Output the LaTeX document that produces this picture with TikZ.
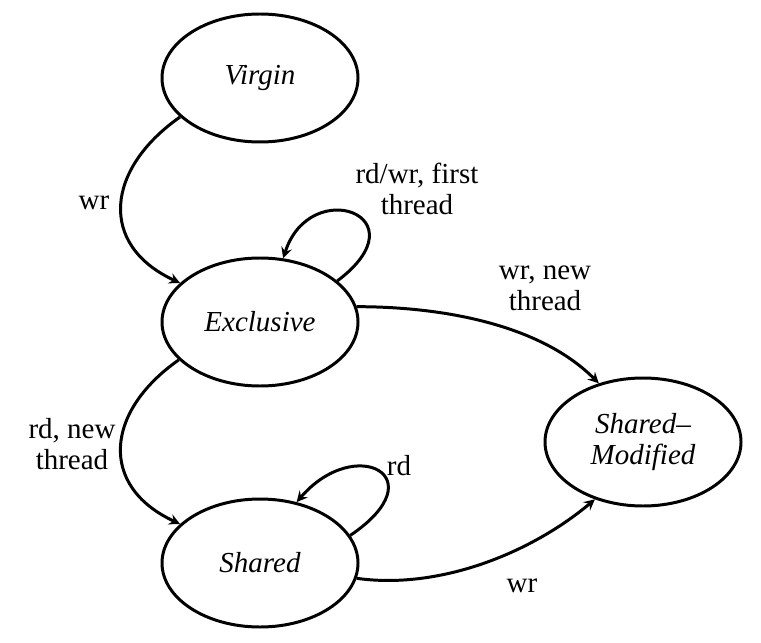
\documentclass[tikz,border=0pt]{standalone}
\usepackage{fontspec}
\setmainfont{Liberation Serif}
\usetikzlibrary{shapes.geometric}
\tikzset{>=stealth}

\begin{document}
\begin{tikzpicture}[line width=1.7pt, font=\fontsize{16.5}{17.6}\selectfont,
    state/.style={draw, ellipse, inner sep=0pt, minimum width=3.92cm, minimum height=2.56cm, align=center, font=\fontsize{16.5}{17.6}\selectfont\itshape},
    lbl/.style={align=center}]
    \useasboundingbox (0,0) rectangle (15.22,12.84);
    \node[state] (V) at (5.2,11.28) {Virgin};
    \node[state] (E) at (5.2,6.4) {Exclusive};
    \node[state] (S) at (5.2,1.58) {Shared};
    \node[state] (M) at (12.86,4.0) {Shared\textendash\\Modified};
    \node[lbl] (wrVE) at (1.88,8.78) {wr};
    \node[lbl] (rwE) at (8.34,9.06) {rd/wr, first\\thread};
    \node[lbl] (wrEM) at (10.9,7.08) {wr, new\\thread};
    \node[lbl] (rdES) at (1.44,3.96) {rd, new\\thread};
    \node[lbl] (rdS) at (7.98,3.52) {rd};
    \node[lbl] (wrSM) at (10.44,1.12) {wr};
    \draw[->] (V.206) to[out=215,in=155,looseness=1.4] (E.154);
    \draw[->] (E.28) to[out=37,in=72,out distance=2.17cm,in distance=1.75cm] (E.70);
    \draw[->] (E.205) to[out=215,in=155,looseness=1.4] (S.154);
    \draw[->] (S.17) to[out=34,in=49,out distance=2.1cm,in distance=1.8cm] (S.59);
    \draw[->] (E.9) to[out=0,in=135,looseness=0.85] (M.127);
    \draw[->] (S.-9) to[out=-8,in=220,looseness=0.85] (M.230);
\end{tikzpicture}
\end{document}
